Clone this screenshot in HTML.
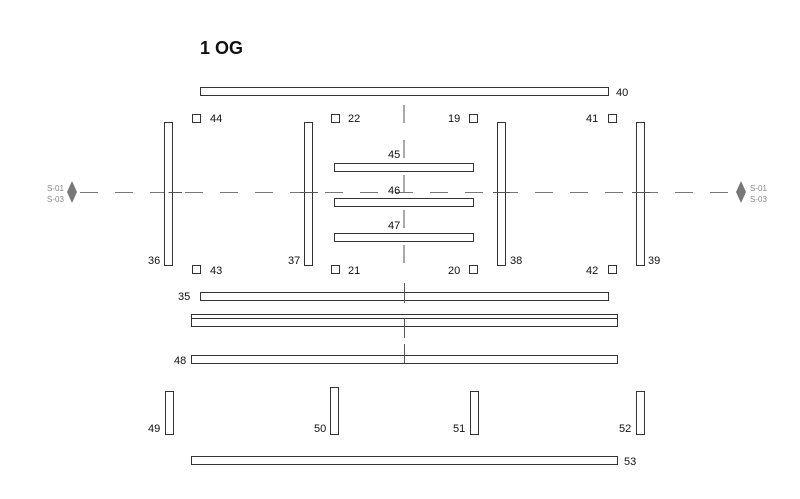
<!DOCTYPE html>
<html><head><meta charset="utf-8"><style>
html,body{margin:0;padding:0;background:#fff;width:800px;height:499px;overflow:hidden}
text{font-family:"Liberation Sans",sans-serif;font-size:11px;fill:#111}
</style></head><body>
<svg width="800" height="499" viewBox="0 0 800 499">
<g stroke="#555" stroke-width="1" fill="none">
<line x1="404" y1="105" x2="404" y2="270" stroke-dasharray="18,17"/>
<line x1="80" y1="192.5" x2="730" y2="192.5" stroke-dasharray="18,17" stroke="#777"/>
<line x1="404.5" y1="283" x2="404.5" y2="303"/>
<line x1="404.5" y1="318" x2="404.5" y2="338"/>
<line x1="404.5" y1="344" x2="404.5" y2="363"/>
</g>
<g stroke="#333" stroke-width="1" fill="#fff">
<rect x="200.5" y="87.5" width="408" height="8"/>
<rect x="164.5" y="122.5" width="8" height="143"/>
<rect x="304.5" y="122.5" width="8" height="143"/>
<rect x="497.5" y="122.5" width="8" height="143"/>
<rect x="636.5" y="122.5" width="8" height="143"/>
<rect x="192.5" y="114.5" width="8" height="8"/>
<rect x="331.5" y="114.5" width="8" height="8"/>
<rect x="469.5" y="114.5" width="8" height="8"/>
<rect x="608.5" y="114.5" width="8" height="8"/>
<rect x="192.5" y="265.5" width="8" height="8"/>
<rect x="331.5" y="265.5" width="8" height="8"/>
<rect x="469.5" y="265.5" width="8" height="8"/>
<rect x="608.5" y="265.5" width="8" height="8"/>
<rect x="334.5" y="163.5" width="139" height="8"/>
<rect x="334.5" y="198.5" width="139" height="8"/>
<rect x="334.5" y="233.5" width="139" height="8"/>
<rect x="200.5" y="292.5" width="408" height="8"/>
<rect x="191.5" y="314.5" width="426" height="12"/>
<line x1="191" y1="318.5" x2="618" y2="318.5"/>
<rect x="191.5" y="355.5" width="426" height="8"/>
<rect x="165.5" y="391.5" width="8" height="43"/>
<rect x="330.5" y="387.5" width="8" height="47"/>
<rect x="470.5" y="391.5" width="8" height="43"/>
<rect x="636.5" y="391.5" width="8" height="43"/>
<rect x="191.5" y="456.5" width="426" height="8"/>
</g>
<line x1="404.5" y1="283" x2="404.5" y2="303" stroke="#555"/>
<line x1="404.5" y1="318" x2="404.5" y2="338" stroke="#555"/>
<line x1="404.5" y1="344" x2="404.5" y2="363" stroke="#555"/>
<line x1="168.5" y1="192.5" x2="182" y2="192.5" stroke="#555"/>
<line x1="300" y1="192.5" x2="318" y2="192.5" stroke="#555"/>
<line x1="493" y1="192.5" x2="510" y2="192.5" stroke="#555"/>
<line x1="632" y1="192.5" x2="650" y2="192.5" stroke="#555"/>
<polygon points="72,181 77,192 72,203 67,192" fill="#777"/>
<polygon points="741,181 746,192 741,203 736,192" fill="#777"/>
<text x="47" y="191" style="font-size:8px;fill:#888">S-01</text>
<text x="47" y="202" style="font-size:8px;fill:#888">S-03</text>
<text x="750" y="191" style="font-size:8px;fill:#888">S-01</text>
<text x="750" y="202" style="font-size:8px;fill:#888">S-03</text>
<text x="200" y="54" style="font-size:18px;font-weight:bold">1 OG</text>
<text x="616" y="96">40</text>
<text x="210" y="122">44</text>
<text x="348" y="122">22</text>
<text x="448" y="122">19</text>
<text x="586" y="122">41</text>
<text x="388" y="158">45</text>
<text x="388" y="194">46</text>
<text x="388" y="229">47</text>
<text x="148" y="264">36</text>
<text x="288" y="264">37</text>
<text x="510" y="264">38</text>
<text x="648" y="264">39</text>
<text x="210" y="274">43</text>
<text x="348" y="274">21</text>
<text x="448" y="274">20</text>
<text x="586" y="274">42</text>
<text x="178" y="300">35</text>
<text x="174" y="364">48</text>
<text x="148" y="432">49</text>
<text x="314" y="432">50</text>
<text x="453" y="432">51</text>
<text x="619" y="432">52</text>
<text x="624" y="465">53</text>
</svg>
</body></html>
